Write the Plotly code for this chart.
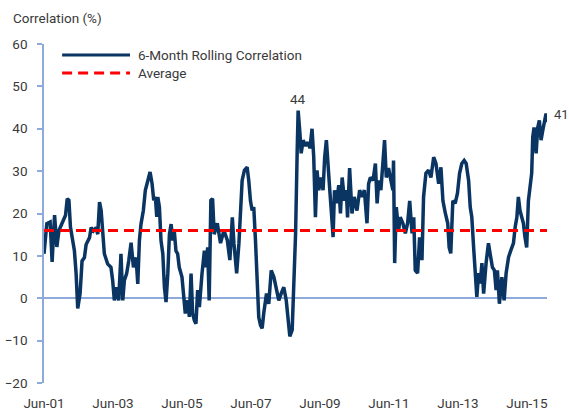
import plotly.graph_objects as go

# ---- data ----
dates = [
    "2001-06-01", "2001-07-01", "2001-08-05", "2001-08-26", "2001-09-21", "2001-10-15", "2001-11-06", "2001-11-30",
    "2001-12-25",
    "2002-01-15", "2002-02-02", "2002-02-20", "2002-03-08", "2002-04-19", "2002-05-07", "2002-05-24", "2002-06-18",
    "2002-07-09", "2002-08-03", "2002-08-21", "2002-09-26", "2002-10-13", "2002-11-07", "2002-12-05", "2002-12-22",
    "2003-01-10", "2003-01-27", "2003-02-14", "2003-03-02", "2003-04-06", "2003-05-11", "2003-05-29", "2003-06-16",
    "2003-07-10", "2003-08-01", "2003-08-25", "2003-09-13", "2003-09-30", "2003-10-24", "2003-11-15", "2003-12-10",
    "2004-01-04", "2004-02-01", "2004-02-19", "2004-03-07", "2004-03-24", "2004-04-18", "2004-05-09", "2004-06-03",
    "2004-06-28", "2004-07-19", "2004-08-06", "2004-08-23", "2004-09-07", "2004-09-18", "2004-10-05", "2004-10-22",
    "2004-11-10", "2004-11-27", "2004-12-14",
    "2005-01-02", "2005-01-19", "2005-02-06", "2005-02-24", "2005-03-11", "2005-03-29", "2005-04-16", "2005-05-03",
    "2005-06-01", "2005-06-15", "2005-07-06", "2005-07-30", "2005-08-18", "2005-09-05", "2005-09-22", "2005-10-10",
    "2005-10-27", "2005-11-14", "2005-12-02", "2005-12-30",
    "2006-01-24", "2006-02-11", "2006-02-28", "2006-03-16", "2006-04-03", "2006-04-21", "2006-05-08",
    "2006-06-10", "2006-07-14", "2006-08-19", "2006-09-24", "2006-10-21", "2006-11-16", "2006-12-03",
    "2007-01-01", "2007-01-25", "2007-02-12", "2007-02-28", "2007-03-24", "2007-04-22", "2007-05-09", "2007-05-27",
    "2007-06-14", "2007-07-01", "2007-07-19", "2007-08-06", "2007-08-23", "2007-09-11", "2007-09-28", "2007-10-15",
    "2007-11-13", "2007-12-07",
    "2008-01-02", "2008-01-30", "2008-02-24", "2008-03-22", "2008-04-16", "2008-05-14", "2008-06-09", "2008-06-26",
    "2008-07-17", "2008-08-11", "2008-08-29", "2008-09-16", "2008-10-03", "2008-10-13", "2008-11-01", "2008-11-14",
    "2008-12-05", "2008-12-30",
    "2009-01-24", "2009-02-15", "2009-03-09", "2009-03-27", "2009-04-14", "2009-05-01", "2009-05-19", "2009-06-13",
    "2009-07-04", "2009-07-21", "2009-08-08", "2009-08-26", "2009-09-13", "2009-10-01", "2009-10-18", "2009-11-02",
    "2009-11-23", "2009-12-17",
    "2010-01-04", "2010-01-22", "2010-02-16", "2010-03-07", "2010-03-20", "2010-04-11", "2010-05-06", "2010-05-30",
    "2010-06-28", "2010-07-26", "2010-08-20", "2010-09-14", "2010-10-12", "2010-10-29", "2010-11-17", "2010-12-15",
    "2011-01-09", "2011-01-27", "2011-02-14", "2011-03-08", "2011-03-29", "2011-04-16", "2011-05-04", "2011-05-28",
    "2011-06-22", "2011-07-13", "2011-07-20", "2011-08-01", "2011-08-18", "2011-09-12", "2011-09-29", "2011-10-27",
    "2011-11-22", "2011-12-16",
    "2012-01-07", "2012-02-01", "2012-02-19", "2012-03-06", "2012-03-31", "2012-04-21", "2012-05-16", "2012-06-02",
    "2012-06-27", "2012-07-25", "2012-08-19", "2012-09-17", "2012-10-11", "2012-11-09", "2012-12-03", "2012-12-24",
    "2013-01-19", "2013-02-13", "2013-02-28", "2013-03-17", "2013-04-08", "2013-05-03", "2013-05-27", "2013-06-18",
    "2013-07-12", "2013-08-06", "2013-08-27", "2013-09-22", "2013-10-09", "2013-10-26", "2013-11-14", "2013-12-01",
    "2013-12-18",
    "2014-01-06", "2014-01-23", "2014-02-10", "2014-02-28", "2014-03-26", "2014-04-20", "2014-05-07", "2014-06-01",
    "2014-06-22", "2014-07-10", "2014-07-24", "2014-08-14", "2014-09-09", "2014-10-03", "2014-10-24", "2014-11-19",
    "2014-12-13",
    "2015-01-10", "2015-01-28", "2015-02-15", "2015-03-03", "2015-03-20", "2015-04-08", "2015-04-25", "2015-05-12",
    "2015-05-30", "2015-06-17", "2015-07-04", "2015-07-22", "2015-08-02", "2015-08-16", "2015-09-07", "2015-09-24",
    "2015-10-11", "2015-10-29", "2015-11-16", "2015-12-04", "2015-12-21", "2015-12-28",
]

correlation = [
    10.5, 17.6, 18, 8.6, 19.6, 12.1, 16, 17.2,
    18.8,
    19.6, 23.5, 23.1, 16.8, 11.2, 5.8, -2.4, 1.1,
    8.8, 9.6, 12.7, 14.3, 16.7, 15.9, 16.7, 15.1,
    22.7, 20.7, 15.1, 10.5, 8.1, 7.3, 4.2, -0.5,
    2.6, -0.5, 10.5, -0.5, 4.2, 5.8, 8.8, 13.1,
    7.3, 9.6, 3.4, 13.6, 17.5, 20.7, 25.5, 27.8,
    29.8, 27.1, 23.1, 23.9, 19.2, 23.9, 21.5, 13.6,
    10.5, 2.6, -0.9,
    5.8, 15.1, 17.5, 13.6, 16, 11.2, 10.5, 7.3,
    5, 1.1, -3.6, -0.5, -4.4, 5.8, -3.6, -5.2,
    -6, 1.9, -2.1, 5.8,
    11.2, 7.3, 12, -0.5, 23.1, 23.5, 15.1,
    17.7, 13, 16, 13.7, 9, 19.1, 13,
    5.9, 13, 20.7, 27.8, 30.2, 30.9, 27.8, 23, 20.7, 21.5, 13.7, 5.9, -4.5, -6.4, -7.1, -3.5, 1.1, -1.3,
    6.6, 5, 2.6, -0.5, 1.1, 2.6, -0.5, -4.5, -9, -7.5, 2.6, 15.3, 35, 44.3, 38.9, 34.2, 37.3, 36,
    36.8, 35.4, 40, 33.3, 19.1, 30.2, 25.5, 28.5, 25.5, 33.3, 37.3, 30.2, 25.5, 20, 14.4, 25.5, 22.4, 26.7,
    20, 28.5, 23, 25.5, 19.1, 30.7, 20, 23.9, 20.7, 25.5, 23.9, 25.5, 17.7, 27, 28.5, 27.8,
    31.8, 22.4, 27.8, 25.5, 33.3, 37.3, 28.5, 30.7, 27.8, 25.5, 32.5, 8.3, 21.5, 16, 19.1, 17.7, 15.3, 17.7,
    23, 15.3, 19.1, 6.6, 5.9, 14.4, 9, 23.9, 29.5, 30.2, 28.5, 33.3, 31.8, 27, 30.9, 23,
    20, 17.7, 12, 10.6, 23, 22.4, 24.8, 29.5, 31.8, 32.5, 31.8, 27.8, 21.5, 19.1, 12, 6.6, 0.3,
    5.9, 3.5, 8.3, 1.1, 8.3, 13, 10.6, 7.3, 6.6, 1.9, 6.6, -1.3, 5, -0.5, 5.9, 9.7, 11.3,
    13, 16.8, 19.1, 23.9, 20.7, 19.1, 17.7, 14.4, 12, 23, 27, 29.5, 38, 40.3, 34.2, 40.3,
    42, 37.3, 39.6, 41.3, 43.6, 41.5,
]

average_value = 16
x_range = ["2001-06-01", "2015-12-31"]
tick_dates = ["2001-06-01", "2003-06-01", "2005-06-01", "2007-06-01",
              "2009-06-01", "2011-06-01", "2013-06-01", "2015-06-01"]
tick_labels = ["Jun-01", "Jun-03", "Jun-05", "Jun-07", "Jun-09", "Jun-11", "Jun-13", "Jun-15"]
y_ticks = [-20, -10, 0, 10, 20, 30, 40, 50, 60]
series_names = ["6-Month Rolling Correlation", "Average"]
peak_label = ("2008-10-13", 44.3, "44")
end_label = ("2015-12-28", 41.5, "41")

FONT = "Roboto, Liberation Sans, sans-serif"
FS = 13.5
NAVY = "#0A3461"
RED = "#FF0000"
AXIS_BLUE = "#8EAADB"
TEXT = "#3A3A3A"

fig = go.Figure()

fig.add_trace(go.Scatter(
    x=dates, y=correlation, mode="lines", name=series_names[0],
    line=dict(color=NAVY, width=3.5), showlegend=False,
))
fig.add_trace(go.Scatter(
    x=[x_range[0], x_range[1]], y=[average_value, average_value], mode="lines",
    name=series_names[1], line=dict(color=RED, width=3, dash="10px,6px"), showlegend=False,
))

# manual legend (line samples + labels)
leg_items = [(0.9676, NAVY, "solid"), (0.9145, RED, "10px,6px")]
shapes = []
annotations = []
for (yy, col, dsh), name in zip(leg_items, series_names):
    shapes.append(dict(type="line", xref="paper", yref="paper", x0=0.036, x1=0.171, y0=yy, y1=yy,
                       line=dict(color=col, width=3, dash=dsh)))
    annotations.append(dict(xref="paper", yref="paper", x=0.183, y=yy, text=name, showarrow=False,
                            xanchor="left", yanchor="middle", font=dict(family=FONT, size=FS, color=TEXT)))

annotations.append(dict(x=peak_label[0], y=peak_label[1], text=peak_label[2], showarrow=False,
                        xanchor="center", yanchor="bottom", yshift=2,
                        font=dict(family=FONT, size=FS, color=TEXT)))
annotations.append(dict(x=end_label[0], y=end_label[1], text=end_label[2], showarrow=False,
                        xanchor="left", yanchor="middle", xshift=5, yshift=8,
                        font=dict(family=FONT, size=13, color=TEXT)))
annotations.append(dict(xref="paper", yref="paper", x=-0.066, y=1.078, text="Correlation (%)",
                        showarrow=False, xanchor="left", yanchor="middle",
                        font=dict(family=FONT, size=FS, color=TEXT)))

fig.update_layout(
    width=569, height=409,
    margin=dict(l=44, r=22, t=44, b=26),
    paper_bgcolor="white", plot_bgcolor="white",
    font=dict(family=FONT, size=FS, color=TEXT),
    shapes=shapes, annotations=annotations,
    showlegend=False,
)
fig.update_xaxes(
    type="date", range=x_range, tickvals=tick_dates, ticktext=tick_labels,
    showgrid=False, zeroline=False, showline=False, ticks="", automargin=False,
    tickfont=dict(family=FONT, size=FS, color=TEXT), ticklabelstandoff=10,
)
fig.update_yaxes(
    range=[-20, 60], tickvals=y_ticks, showgrid=False, automargin=False,
    zeroline=True, zerolinecolor=AXIS_BLUE, zerolinewidth=1.5,
    showline=True, linecolor=AXIS_BLUE, linewidth=1.5,
    ticks="outside", ticklen=5, tickcolor=AXIS_BLUE, tickwidth=1.5,
    tickfont=dict(family=FONT, size=FS, color=TEXT), ticklabelstandoff=7,
)

fig.write_html(
    "out.html",
    config={"displayModeBar": False},
    post_script="document.body.style.margin='0';document.body.style.overflow='hidden';",
)
